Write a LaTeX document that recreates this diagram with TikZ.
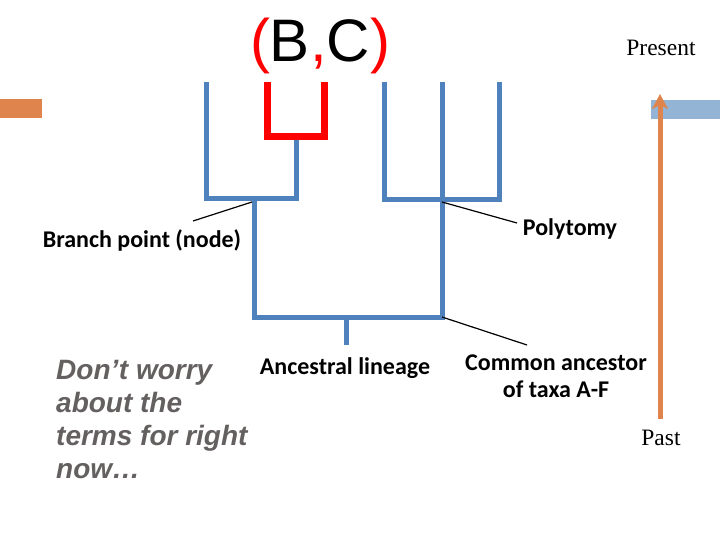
\documentclass[tikz,border=0pt]{standalone}
\usepackage{fontspec}
\setmainfont{Liberation Serif}
\newfontfamily\arialfont{Liberation Sans}
\newfontfamily\calibrifont{Carlito}
\usetikzlibrary{arrows.meta}
\definecolor{treeblue}{RGB}{79,129,189}
\definecolor{barorange}{RGB}{222,132,76}
\definecolor{barblue}{RGB}{148,180,213}
\definecolor{notegray}{RGB}{100,96,96}

\begin{document}
\begin{tikzpicture}[x=1pt, y=-1pt,
  branch/.style={line width=5pt, draw=treeblue},
  clade/.style={line width=7pt, draw=red},
  term/.style={font=\calibrifont\bfseries\fontsize{24}{27}\selectfont, align=center, inner sep=0pt},
  pointer/.style={line width=1.2pt, draw=black},
  time/.style={font=\fontsize{23.5}{26}\selectfont, inner sep=0pt},
  arrow/.style={-{Stealth[length=15pt, width=16pt, inset=4pt]}, line width=5pt, draw=barorange},
]
\useasboundingbox (0,0) rectangle (720,540);

% === Side bars ===
\fill[barorange] (0,99) rectangle (42,118);
\fill[barblue] (651,100) rectangle (720,119);

% === Tree points ===
\coordinate (a) at (206,82);
\coordinate (b) at (296,140);
\coordinate (lnode) at (254,199);
\coordinate (d) at (384,82);
\coordinate (e) at (442,82);
\coordinate (f) at (499,82);
\coordinate (rnode) at (442,200);
\coordinate (root) at (442,317);
\coordinate (stem) at (346,345);

% === Tree ===
\draw[branch] (a) |- (296,199) -- (b);
\draw[branch] (lnode) |- (root) -- (e);
\draw[branch] (d) |- (499,200) -- (f);
\draw[branch] (stem) -- (346,317);
\draw[clade] (267,82) |- (324,137) -- (324,82);

% === Clade label ===
\node[font=\arialfont\fontsize{60}{70}\selectfont, inner sep=0pt] (bc) at (320,46)
  {\textcolor{red}{(}B\textcolor{red}{,}C\textcolor{red}{)}};

% === Terms ===
\node[term] (tbranch) at (142,240) {Branch point (node)};
\node[term] (tpoly) at (570,229) {Polytomy};
\node[term] (tlin) at (345,368) {Ancestral lineage};
\node[term] (tcommon) at (556,376) {Common ancestor\\of taxa A-F};

\draw[pointer] (252,202) -- (193,221);
\draw[pointer] (rnode) ++(0,2) -- (517,223);
\draw[pointer] (root) -- (527,345);

% === Note ===
\node[font=\arialfont\bfseries\itshape\fontsize{28}{33}\selectfont, text=notegray,
  align=left, anchor=north west, inner sep=0pt] (note) at (56,360)
  {Don’t worry\\about the\\terms for right\\now…};

% === Time axis ===
\node[time] (present) at (661,48) {Present};
\node[time] (past) at (661,438) {Past};
\coordinate (tbase) at (660,419);
\coordinate (ttip) at (660,94);
\draw[arrow] (tbase) -- (ttip);

\end{tikzpicture}
\end{document}
